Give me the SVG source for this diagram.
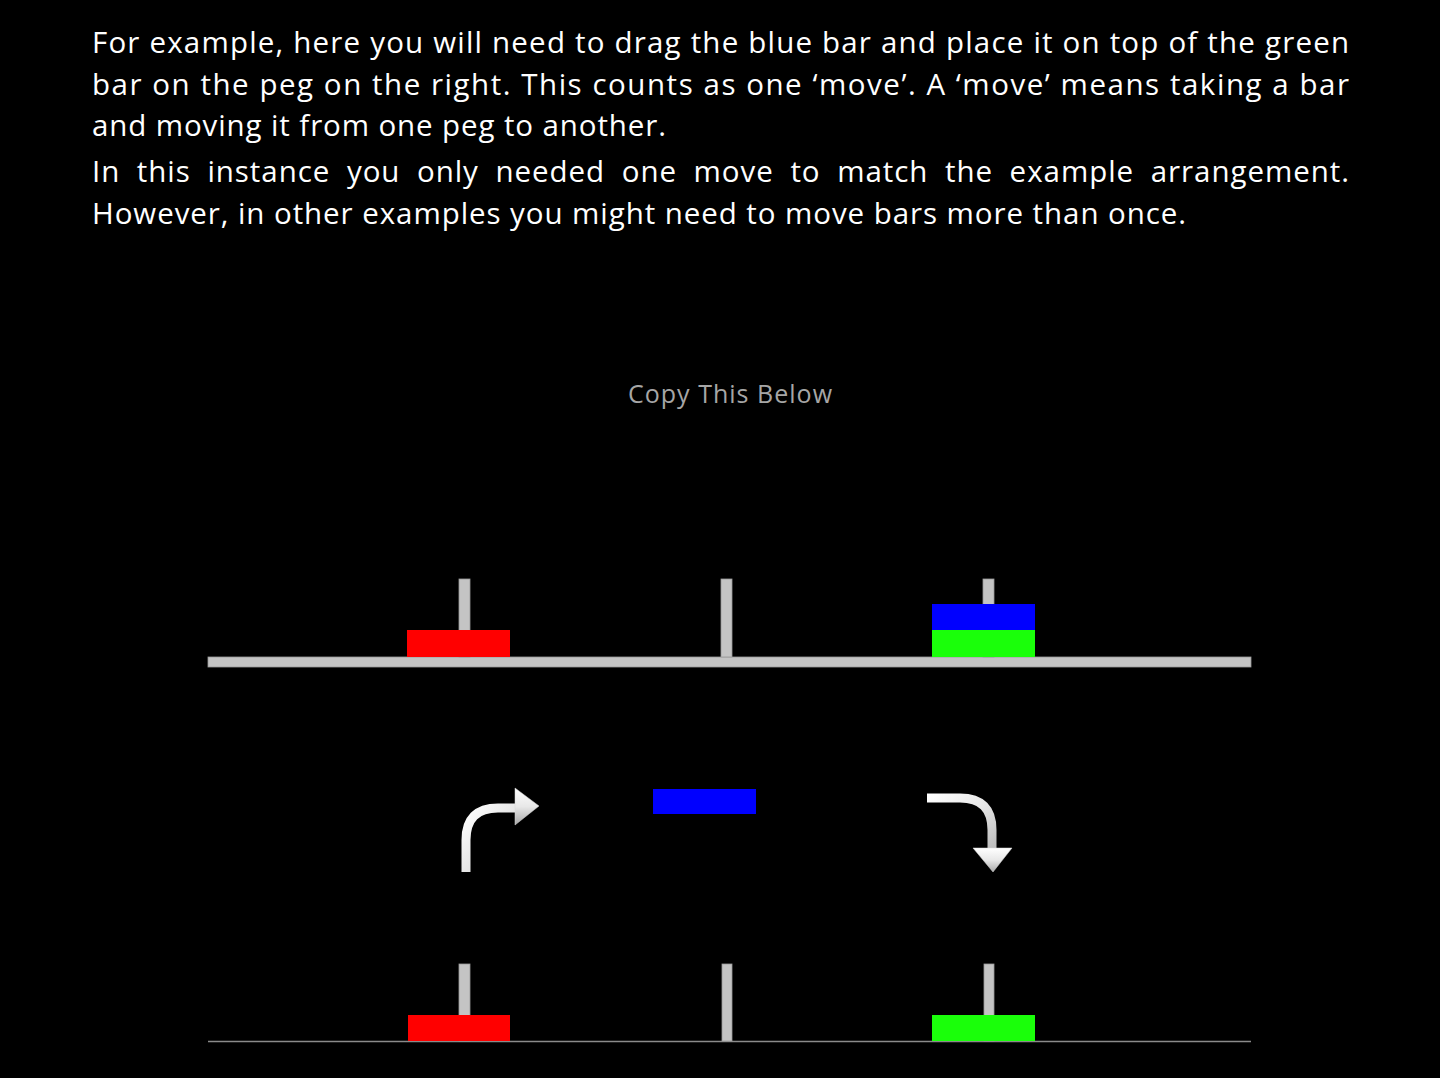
<svg xmlns="http://www.w3.org/2000/svg" width="1440" height="1078" viewBox="0 0 1440 1078">
<defs>
<style>
.txt{font-family:"Open Sans","Noto Sans","Liberation Sans",sans-serif;font-size:29.5px;fill:#ffffff}
.cap{font-family:"Open Sans","Noto Sans","Liberation Sans",sans-serif;font-size:25px;fill:#a6a6a6}
.peg{fill:#c4c4c4;stroke:#9a9a9a;stroke-width:0.8}
.base{fill:#c4c4c4;stroke:#9a9a9a;stroke-width:0.8}
.red{fill:#ff0000}
.blue{fill:#0000ff}
.green{fill:#1aff0a}
.shaft{fill:none;stroke:url(#shaftGrad);stroke-width:9}
.head{fill:url(#headGrad);stroke:#d8d8d8;stroke-width:0.5}
</style>
<linearGradient id="shaftGrad" x1="0" y1="0" x2="1" y2="1">
<stop offset="0" stop-color="#ffffff"/>
<stop offset="0.5" stop-color="#e6e6e6"/>
<stop offset="1" stop-color="#bdbdbd"/>
</linearGradient>
<linearGradient id="headGrad" x1="0" y1="0" x2="0" y2="1">
<stop offset="0" stop-color="#ffffff"/>
<stop offset="0.5" stop-color="#e8e8e8"/>
<stop offset="1" stop-color="#a8a8a8"/>
</linearGradient>
</defs>
<rect x="0" y="0" width="1440" height="1078" fill="#000000"/>

<g id="instructions">
<text class="txt" x="92" y="53" textLength="1257" lengthAdjust="spacing">For example, here you will need to drag the blue bar and place it on top of the green</text>
<text class="txt" x="92" y="95" textLength="1257" lengthAdjust="spacing">bar on the peg on the right. This counts as one ‘move’. A ‘move’ means taking a bar</text>
<text class="txt" x="92" y="136" textLength="574" lengthAdjust="spacing">and moving it from one peg to another.</text>
<text class="txt" x="92" y="182" textLength="1257" lengthAdjust="spacing" word-spacing="8">In this instance you only needed one move to match the example arrangement.</text>
<text class="txt" x="92" y="224" textLength="1094" lengthAdjust="spacing">However, in other examples you might need to move bars more than once.</text>
</g>

<g id="caption">
<text class="cap" x="628" y="403" textLength="204" lengthAdjust="spacing">Copy This Below</text>
</g>

<g id="target-board">
<rect class="base" x="208" y="657" width="1043" height="10"/>
<rect class="peg" x="459" y="579" width="11" height="78"/>
<rect class="peg" x="721" y="579" width="11" height="78"/>
<rect class="peg" x="983" y="579" width="11" height="78"/>
<rect class="red" x="407" y="630" width="103" height="27"/>
<rect class="green" x="932" y="630" width="103" height="27"/>
<rect class="blue" x="932" y="604" width="103" height="26"/>
</g>

<g id="moving-bar">
<rect class="blue" x="653" y="789" width="103" height="25"/>
</g>

<g id="connectors">
<path class="shaft" d="M466,872 L466,840 Q466,808 498,808 L517,808"/>
<polygon class="head" points="515,788 539,806 515,825"/>
<path class="shaft" d="M927,798 L960,798 Q992,798 992,830 L992,849"/>
<polygon class="head" points="973,848 1012,848 993,872"/>
</g>

<g id="player-board">
<line x1="208" y1="1041.5" x2="1251" y2="1041.5" stroke="#8a8a8a" stroke-width="1.5"/>
<rect class="peg" x="459" y="964" width="11" height="77"/>
<rect class="peg" x="722" y="964" width="10" height="77"/>
<rect class="peg" x="984" y="964" width="10" height="77"/>
<rect class="red" x="408" y="1015" width="102" height="26"/>
<rect class="green" x="932" y="1015" width="103" height="26"/>
</g>
</svg>
